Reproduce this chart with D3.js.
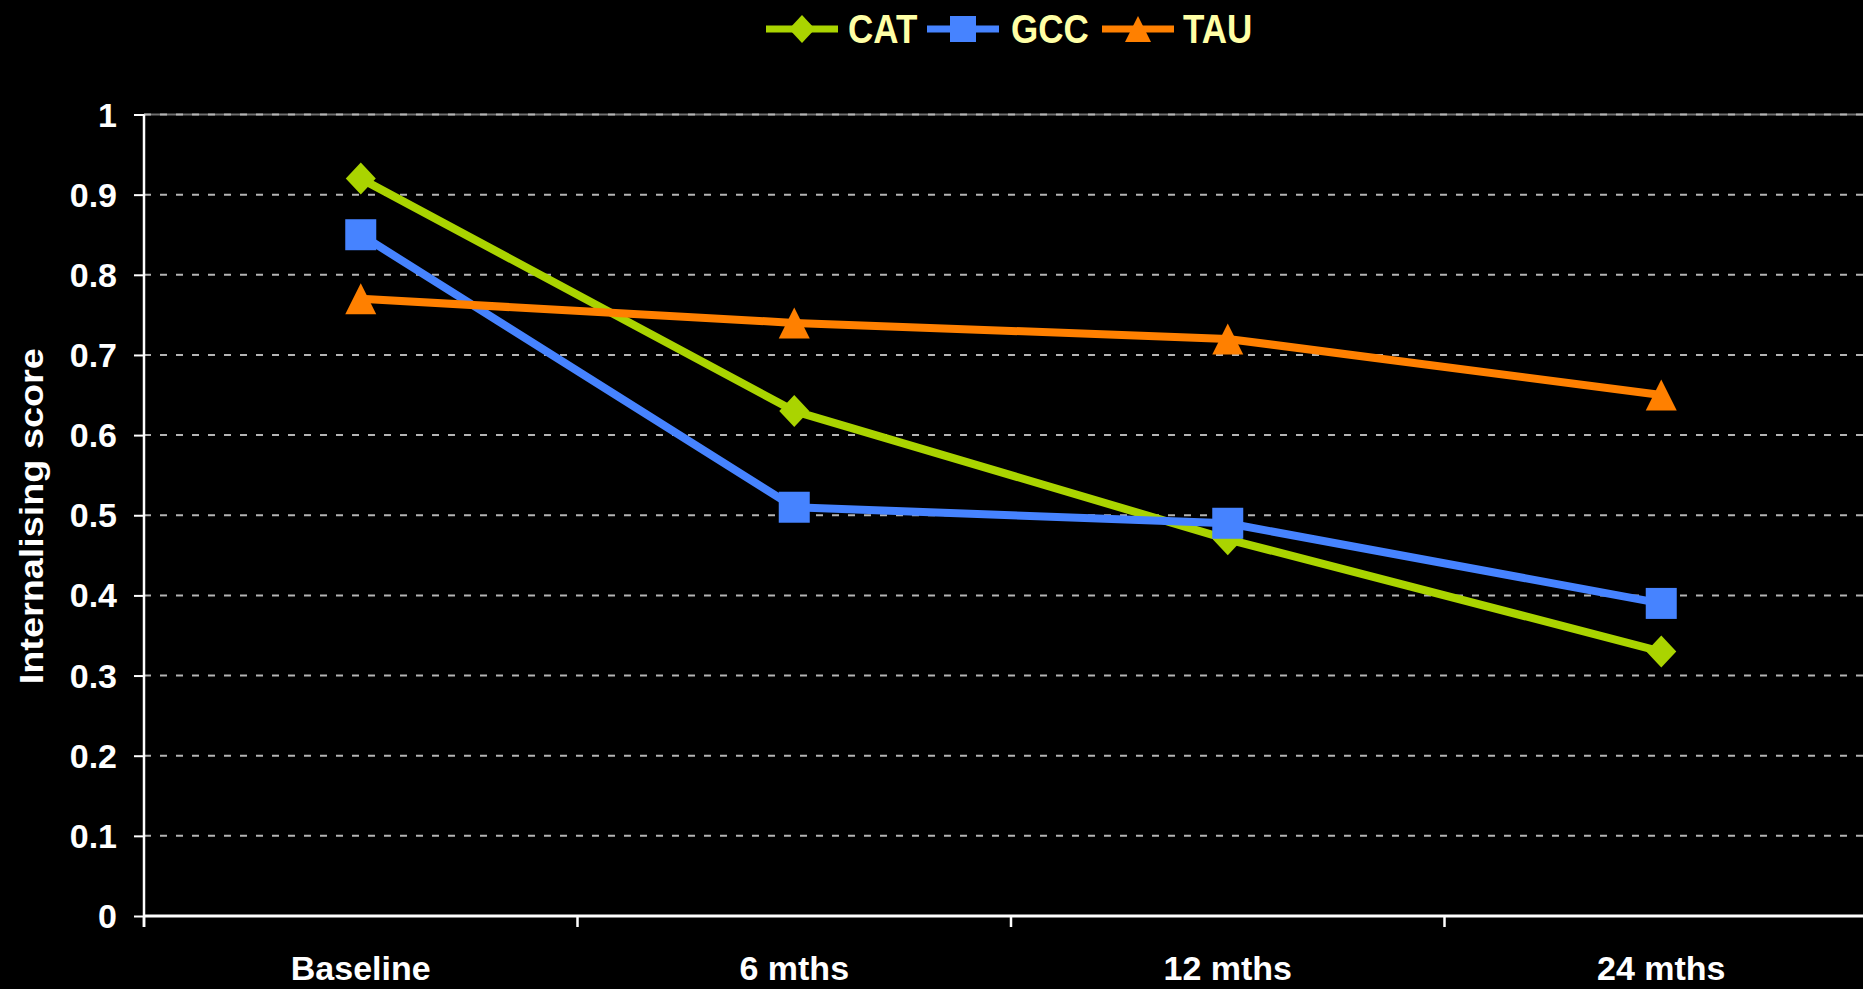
<!DOCTYPE html>
<html>
<head>
<meta charset="utf-8">
<script src="https://cdn.jsdelivr.net/npm/d3@7"></script>
<style>
  html, body { margin: 0; padding: 0; background: #000; overflow: hidden; }
  svg { display: block; }
  text { font-family: "Liberation Sans", Arial, sans-serif; font-weight: bold; }
</style>
</head>
<body>
<svg id="chart" width="1863" height="989"></svg>
<script>
// Time points on the x axis
const categories = ["Baseline", "6 mths", "12 mths", "24 mths"];

// Mean internalising score per group at each time point
const catValues = [0.92, 0.63, 0.47, 0.33];
const gccValues = [0.85, 0.51, 0.49, 0.39];
const tauValues = [0.77, 0.74, 0.72, 0.65];

const seriesNames = ["CAT", "GCC", "TAU"];
const yTicks = [0, 0.1, 0.2, 0.3, 0.4, 0.5, 0.6, 0.7, 0.8, 0.9, 1];
const yTitle = "Internalising score";

const series = [
  { name: seriesNames[0], values: catValues, color: "#aad400", symbol: "diamond" },
  { name: seriesNames[1], values: gccValues, color: "#4683ff", symbol: "square" },
  { name: seriesNames[2], values: tauValues, color: "#ff8000", symbol: "triangle" }
];

const svg = d3.select("#chart");
const plot = { left: 144, right: 1878, top: 114.5, bottom: 916 };

const x = d3.scaleBand().domain(categories).range([plot.left, plot.right]).padding(0);
const y = d3.scaleLinear().domain([0, 1]).range([plot.bottom, plot.top]);
const cx = d => x(d) + x.bandwidth() / 2;

// Marker shapes, sized in pixels
function marker(sel, symbol, s) {
  if (symbol === "square") {
    sel.append("rect").attr("x", -s / 2).attr("y", -s / 2).attr("width", s).attr("height", s);
  } else if (symbol === "diamond") {
    const h = s / 2 + 1;
    sel.append("path").attr("d", `M0,${-h}L${s / 2},0L0,${h}L${-s / 2},0Z`);
  } else {
    const h = s / 2;
    sel.append("path").attr("d", `M0,${-h}L${h},${h}L${-h},${h}Z`);
  }
}

// Horizontal gridlines
const grid = svg.append("g");
grid.append("line")
  .attr("x1", plot.left).attr("x2", plot.right)
  .attr("y1", y(1)).attr("y2", y(1))
  .attr("stroke", "#6e6e6e").attr("stroke-width", 2);
grid.selectAll("line.g").data(yTicks.filter(t => t > 0)).join("line")
  .attr("class", "g")
  .attr("x1", plot.left).attr("x2", plot.right)
  .attr("y1", d => y(d)).attr("y2", d => y(d))
  .attr("stroke", "#b4b4b4").attr("stroke-width", 2)
  .attr("stroke-dasharray", "7,9");

// Y axis
const yAxis = svg.append("g")
  .attr("transform", `translate(${plot.left},0)`)
  .call(d3.axisLeft(y).tickValues(yTicks).tickSize(10).tickPadding(17).tickFormat(d3.format("~g")));
yAxis.select(".domain").attr("stroke", "#fff").attr("stroke-width", 2.5)
  .attr("d", `M0,${plot.top}V${plot.bottom + 11}`);
yAxis.selectAll(".tick line").attr("stroke", "#fff").attr("stroke-width", 2);
yAxis.selectAll(".tick text").attr("fill", "#fff").attr("font-size", 34).attr("dy", "0.34em");

// X axis: ticks on category boundaries
const xg = svg.append("g");
xg.append("line")
  .attr("x1", plot.left).attr("x2", plot.right)
  .attr("y1", plot.bottom).attr("y2", plot.bottom)
  .attr("stroke", "#fff").attr("stroke-width", 3);
xg.selectAll("line.t").data(categories).join("line")
  .attr("class", "t")
  .attr("x1", d => x(d)).attr("x2", d => x(d))
  .attr("y1", plot.bottom).attr("y2", plot.bottom + 11)
  .attr("stroke", "#fff").attr("stroke-width", 2.5);
xg.selectAll("text").data(categories).join("text")
  .attr("x", d => cx(d)).attr("y", 980)
  .attr("text-anchor", "middle").attr("fill", "#fff").attr("font-size", 34)
  .text(d => d);

// Y axis title
svg.append("text")
  .attr("transform", `translate(43,${(plot.top + plot.bottom) / 2 + 1}) rotate(-90)`)
  .attr("text-anchor", "middle").attr("fill", "#fff").attr("font-size", 34)
  .attr("textLength", 336).attr("lengthAdjust", "spacingAndGlyphs")
  .text(yTitle);

// Series lines and markers
const line = d3.line().x((d, i) => cx(categories[i])).y(d => y(d));
series.forEach(s => {
  const g = svg.append("g");
  g.append("path").datum(s.values)
    .attr("d", line).attr("fill", "none")
    .attr("stroke", s.color).attr("stroke-width", 8).attr("stroke-linejoin", "round");
  g.selectAll("g.m").data(s.values).join("g")
    .attr("class", "m")
    .attr("transform", (d, i) => `translate(${cx(categories[i])},${y(d)})`)
    .attr("fill", s.color)
    .each(function () { marker(d3.select(this), s.symbol, s.symbol === "diamond" ? 30 : 31); });
});

// Legend
const legendItems = [
  { s: series[0], x0: 766, tx: 848 },
  { s: series[1], x0: 927, tx: 1011 },
  { s: series[2], x0: 1102, tx: 1183 }
];
const ly = 29;
legendItems.forEach(it => {
  const g = svg.append("g");
  g.append("line")
    .attr("x1", it.x0).attr("x2", it.x0 + 72)
    .attr("y1", ly).attr("y2", ly)
    .attr("stroke", it.s.color).attr("stroke-width", 7);
  const m = g.append("g").attr("transform", `translate(${it.x0 + 36},${ly})`).attr("fill", it.s.color);
  marker(m, it.s.symbol, 26);
  g.append("text")
    .attr("transform", `translate(${it.tx},${ly}) scale(1,1.14)`)
    .attr("dy", "0.36em")
    .attr("fill", "#ffffa6").attr("font-size", 35)
    .text(it.s.name);
});
</script>
</body>
</html>
